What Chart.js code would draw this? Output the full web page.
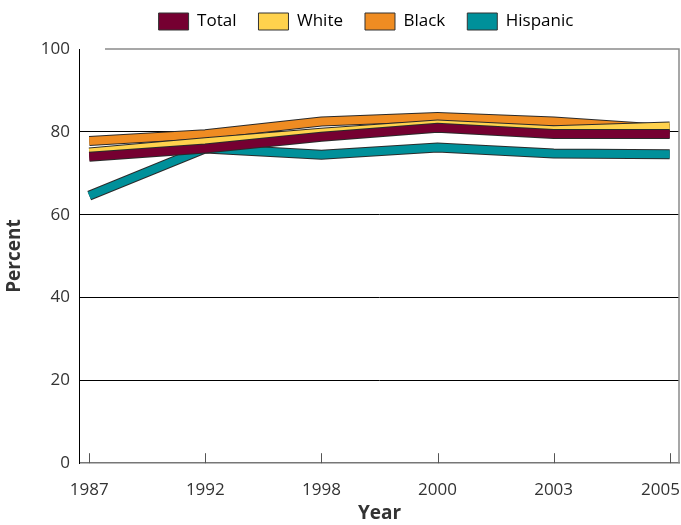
<!DOCTYPE html>
<html>
<head>
<meta charset="utf-8">
<script src="https://cdn.jsdelivr.net/npm/chart.js@4.4.1/dist/chart.umd.min.js"></script>
<style>
  html, body { margin: 0; padding: 0; background: #fff; }
  #wrap { width: 681px; height: 525px; }
</style>
</head>
<body>
<div id="wrap"><canvas id="chartLine"></canvas></div>
<script>
// data
const years = ["1987", "1992", "1998", "2000", "2003", "2005"];
const total = [74, 76, 78.8, 81, 79.5, 79.5];
const white = [75, 77.5, 79.8, 81.8, 80.4, 81.3];
const black = [77.8, 79.4, 82.5, 83.6, 82.5, 80.6];
const hispanic = [64.6, 76, 74.5, 76.2, 74.8, 74.6];
const yTicks = [0, 20, 40, 60, 80, 100];

const series = [
  { label: "Total", values: total, color: "#750031" },
  { label: "White", values: white, color: "#ffd24d" },
  { label: "Black", values: black, color: "#ef8c22" },
  { label: "Hispanic", values: hispanic, color: "#00909a" },
];

const pts = (vals) => vals.map((v, i) => ({ x: i, y: v }));

// each series = coloured band on top of a wider dark band (outline)
const datasets = [];
series.forEach((s) => {
  datasets.push({
    label: s.label,
    data: pts(s.values),
    borderColor: s.color,
    backgroundColor: s.color,
    borderWidth: 8,
    pointRadius: 0,
    tension: 0,
  });
  datasets.push({
    label: s.label + "_outline",
    data: pts(s.values),
    borderColor: "#2a2a2a",
    borderWidth: 10,
    pointRadius: 0,
    tension: 0,
  });
});

const font = "'Open Sans', 'Noto Sans', sans-serif";

// inward x tick marks, year labels, grey frame on top/right
const extras = {
  id: "extras",
  afterLayout(chart) {
    // legend sits higher and a bit right of centre in the original
    chart.legend.left += 25;
    chart.legend.right += 25;
    chart.legend.top -= 9;
    chart.legend.bottom -= 9;
  },
  afterDraw(chart) {
    const { ctx, chartArea, scales } = chart;
    ctx.save();
    ctx.strokeStyle = "#555";
    ctx.lineWidth = 1;
    ctx.fillStyle = "#333";
    ctx.font = "17px " + font;
    ctx.textBaseline = "middle";
    ctx.textAlign = "center";
    years.forEach((y, i) => {
      const px = scales.x.getPixelForValue(i);
      const x = Math.round(px) + 0.5;
      ctx.beginPath();
      ctx.moveTo(x, chartArea.bottom);
      ctx.lineTo(x, chartArea.bottom - 10);
      ctx.stroke();
      const w = ctx.measureText(y).width;
      let cx = px;
      if (cx + w / 2 > chart.width - 1) cx = chart.width - 1 - w / 2;
      ctx.fillText(y, cx, chartArea.bottom + 27);
    });
    ctx.strokeStyle = "#8a8a8a";
    ctx.lineWidth = 1.5;
    ctx.beginPath();
    ctx.moveTo(chartArea.left + 25, chartArea.top);
    ctx.lineTo(chartArea.right, chartArea.top);
    ctx.lineTo(chartArea.right, chartArea.bottom);
    ctx.stroke();
    ctx.restore();
  },
};

const config = {
  type: "line",
  data: { datasets },
  options: {
    responsive: true,
    maintainAspectRatio: false,
    animation: false,
    layout: { padding: { left: 3, right: 2, top: 0, bottom: 0 } },
    plugins: {
      tooltip: { enabled: false },
      legend: {
        position: "top",
        labels: {
          font: { family: font, size: 17 },
          color: "#333",
          boxWidth: 30,
          boxHeight: 17,
          padding: 22,
          generateLabels: (chart) =>
            series.map((s) => ({
              text: s.label,
              fillStyle: s.color,
              strokeStyle: "#333",
              lineWidth: 1,
              hidden: false,
            })),
        },
      },
    },
    scales: {
      x: {
        type: "linear",
        min: -0.08,
        max: 5.08,
        afterBuildTicks: (axis) => {
          axis.ticks = years.map((y, i) => ({ value: i }));
        },
        ticks: { display: false },
        grid: { display: false, drawTicks: false },
        border: { color: "#777", width: 1.5 },
        title: {
          display: true,
          text: "Year",
          font: { family: font, size: 19, weight: "bold" },
          color: "#333",
          padding: { top: 39, bottom: 0 },
        },
      },
      y: {
        min: 0,
        max: 100,
        afterBuildTicks: (axis) => {
          axis.ticks = yTicks.map((v) => ({ value: v }));
        },
        ticks: {
          font: { family: font, size: 17 },
          color: "#333",
          padding: 10,
        },
        grid: {
          drawTicks: false,
          color: (c) => (c.tick && (c.tick.value === 0 || c.tick.value === 100) ? "rgba(0,0,0,0)" : "#000"),
          lineWidth: 1,
        },
        border: { color: "#000", width: 1 },
        title: {
          display: true,
          text: "Percent",
          font: { family: font, size: 19, weight: "bold" },
          color: "#333",
          padding: { top: 0, bottom: 5 },
        },
      },
    },
  },
  plugins: [extras],
};

var chartLine = new Chart(document.getElementById("chartLine"), config);
</script>
</body>
</html>
